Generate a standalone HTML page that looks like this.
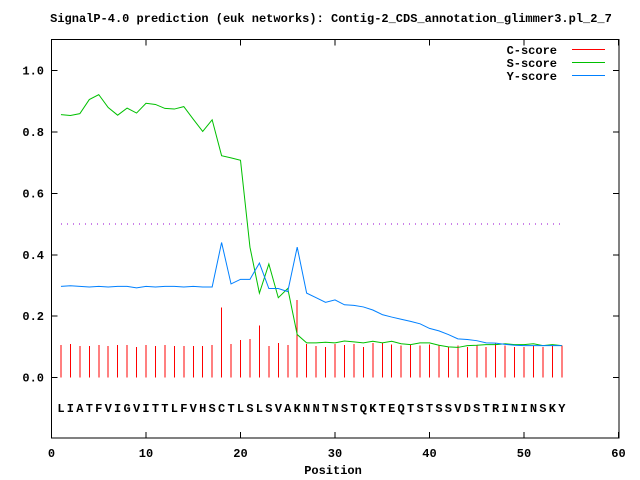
<!DOCTYPE html>
<html><head><meta charset="utf-8"><style>
body{margin:0;background:#fff}
svg{display:block}
text{font-family:"Liberation Mono","DejaVu Sans Mono",monospace;font-weight:bold;font-size:12px;fill:#000}
line,rect{shape-rendering:crispEdges}
</style></head><body>
<svg id="chart" width="640" height="480" viewBox="0 0 640 480">
<rect width="640" height="480" fill="#fff"/>
<text x="331" y="22" text-anchor="middle">SignalP-4.0 prediction (euk networks): Contig-2_CDS_annotation_glimmer3.pl_2_7</text>
<g id="axes"></g>
<g id="marks"></g>
<rect x="51.5" y="39.5" width="567.5" height="398.5" fill="none" stroke="#000" stroke-width="1"/>
<text x="30" y="250" text-anchor="middle" transform="rotate(-90 15 250)" dx="-15" dy="-15">Score</text>
<text x="333" y="474" text-anchor="middle">Position</text>
<g>
<text x="557" y="54" text-anchor="end">C-score</text>
<line x1="572" y1="49.5" x2="605" y2="49.5" stroke="#ff0000"/>
<text x="557" y="67" text-anchor="end">S-score</text>
<line x1="572" y1="62.5" x2="605" y2="62.5" stroke="#00c000"/>
<text x="557" y="80" text-anchor="end">Y-score</text>
<line x1="572" y1="75.5" x2="605" y2="75.5" stroke="#0080ff"/>
</g>
</svg>
<script>
const residues = "LIATFVIGVITTLFVHSCTLSLSVAKNNTNSTQKTEQTSTSSVDSTRININSKY".split("");
const cScore = [0.106,0.109,0.103,0.103,0.106,0.103,0.106,0.106,0.100,0.106,0.103,0.106,0.103,0.103,0.103,0.103,0.106,0.228,0.109,0.122,0.125,0.169,0.103,0.112,0.106,0.253,0.109,0.103,0.100,0.109,0.106,0.110,0.100,0.113,0.113,0.107,0.104,0.107,0.104,0.107,0.104,0.100,0.104,0.100,0.104,0.100,0.111,0.105,0.100,0.100,0.104,0.100,0.104,0.104];
const sScore = [0.857,0.854,0.860,0.906,0.922,0.880,0.855,0.878,0.862,0.894,0.890,0.877,0.875,0.883,0.842,0.802,0.840,0.723,0.716,0.708,0.425,0.275,0.370,0.260,0.290,0.140,0.113,0.113,0.115,0.113,0.119,0.116,0.113,0.118,0.113,0.118,0.110,0.107,0.113,0.113,0.105,0.100,0.098,0.104,0.105,0.107,0.107,0.110,0.107,0.107,0.110,0.104,0.107,0.104];
const yScore = [0.297,0.299,0.297,0.295,0.297,0.295,0.297,0.297,0.292,0.297,0.295,0.297,0.297,0.295,0.297,0.295,0.295,0.440,0.305,0.320,0.320,0.373,0.290,0.290,0.280,0.425,0.275,0.260,0.245,0.253,0.237,0.235,0.230,0.220,0.205,0.197,0.190,0.183,0.175,0.160,0.152,0.140,0.126,0.124,0.120,0.113,0.112,0.108,0.105,0.104,0.104,0.104,0.104,0.104];
const xTicks = [0,10,20,30,40,50,60];
const yTicks = [0.0,0.2,0.4,0.6,0.8,1.0];
const yTickLabels = ["0.0","0.2","0.4","0.6","0.8","1.0"];
const cutoff = 0.5;

const NS = "http://www.w3.org/2000/svg";
const X = v => 51.5 + v * 9.45;
const Y = v => 377.5 - v * 306.8;
const axes = document.getElementById("axes");
const marks = document.getElementById("marks");
function mk(tag, attrs, parent){const e=document.createElementNS(NS,tag);for(const k in attrs)e.setAttribute(k,attrs[k]);parent.appendChild(e);return e;}

xTicks.forEach(t=>{
  const l=mk("line",{x1:X(t),x2:X(t),y1:438,y2:432,stroke:"#000"},axes);
  
  
  const l2=mk("line",{x1:X(t),x2:X(t),y1:39.5,y2:45.5,stroke:"#000"},axes);
  
  
  const tx=mk("text",{x:X(t),y:457,"text-anchor":"middle"},axes);
  tx.textContent=t;
  
  
});
yTicks.forEach((t,i)=>{
  const l=mk("line",{x1:51.5,x2:57.5,y1:Y(t),y2:Y(t),stroke:"#000"},axes);
  
  
  const l2=mk("line",{x1:619,x2:613,y1:Y(t),y2:Y(t),stroke:"#000"},axes);
  
  
  const tx=mk("text",{x:44,y:Y(t)+4,"text-anchor":"end"},axes);
  tx.textContent=yTickLabels[i];
  
  
});

const cut=mk("line",{x1:X(1),x2:X(residues.length),y1:Y(cutoff),y2:Y(cutoff),stroke:"#9400d3","stroke-dasharray":"1 5"},marks);



cScore.forEach((v,i)=>{
  const b=mk("line",{x1:X(i+1),x2:X(i+1),y1:Y(0),y2:Y(v),stroke:"#ff0000"},marks);
  
  
});
function series(arr,color,name){
  const p=mk("polyline",{points:arr.map((v,i)=>X(i+1)+","+Y(v)).join(" "),fill:"none",stroke:color,"stroke-width":1},marks);
  
  
}
series(sScore,"#00c000","s-score-line");
series(yScore,"#0080ff","y-score-line");

residues.forEach((r,i)=>{
  const t=mk("text",{x:X(i+1),y:412,"text-anchor":"middle"},marks);
  t.textContent=r;
  
  
});
</script>
</body></html>
